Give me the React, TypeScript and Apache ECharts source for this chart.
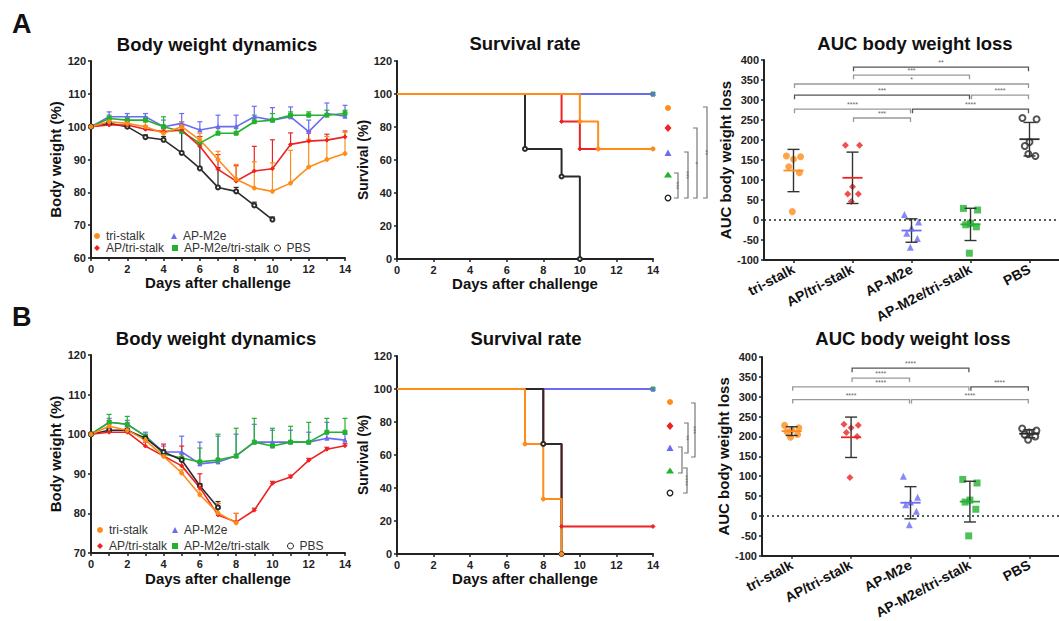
import React, { useEffect, useRef } from "react";
import * as echarts from "echarts";

const FONT = "'Liberation Sans', Arial, Helvetica, sans-serif";

const GROUPS = ["tri-stalk", "AP/tri-stalk", "AP-M2e", "AP-M2e/tri-stalk", "PBS"];
const COLORS = ["#FF8C1A", "#EE2222", "#6B6BF2", "#22B22E", "#2B2B2B"];
const SYMBOLS = ["circle", "diamond", "triangle", "rect", "emptyCircle"];

const DAYS = [0, 1, 2, 3, 4, 5, 6, 7, 8, 9, 10, 11, 12, 13, 14];

// ---- Panel A: body weight (mean %, upper SD)
const A_BW_TRI = [100, 101.5, 101, 100, 98, 100, 96, 90, 84, 81.3, 80.3, 82.8, 87.7, 90, 91.8];
const A_BW_TRI_SD = [0, 1, 1, 1.5, 1, 1.5, 2, 2.5, 4.5, 8, 8.7, 10, 8.5, 7, 6.5];
const A_BW_APTRI = [100, 100.5, 100.5, 99.2, 98.5, 99, 94, 87, 83.4, 86.5, 87.2, 94.6, 95.6, 95.9, 96.9];
const A_BW_APTRI_SD = [0, 0.5, 1, 1, 1, 1.5, 3, 4.5, 4.7, 7.5, 8.8, 3.5, 3, 1.8, 1.8];
const A_BW_M2E = [100, 103, 103, 103, 100, 101, 99, 100, 100, 103, 102, 103, 98.5, 104, 103.2];
const A_BW_M2E_SD = [0, 1.5, 1, 1, 2, 3, 2.5, 3.5, 3.5, 3.2, 3.8, 3, 3.5, 3.2, 3.3];
const A_BW_M2ETRI = [100, 102.5, 102, 102, 100, 98.5, 95, 98, 98, 101.5, 102, 103.5, 103.5, 103.5, 104];
const A_BW_M2ETRI_SD = [0, 1, 1, 1, 3, 3, 2, 2, 2, 2, 2, 1, 1, 1.5, 1];
const A_BW_PBS = [100, 101, 100, 96.8, 96, 92, 87.3, 81.5, 80.3, 76, 71.7];
const A_BW_PBS_SD = [0, 0.5, 1, 0.7, 1, 8, 7.7, 6, 1.2, 1, 0.8];

// ---- Panel B: body weight
const B_BW_TRI = [100, 102, 101, 98.5, 94.4, 90.2, 84.7, 80.1, 77.6];
const B_BW_TRI_SD = [0, 1.5, 1, 0.5, 0.6, 0.8, 1.3, 2.4, 2.4];
const B_BW_APTRI = [100, 100.5, 100.5, 97, 94.5, 92, 86.5, 79.6, 77.8, 80.8, 87.6, 89.2, 93.4, 96.2, 97.1];
const B_BW_APTRI_SD = [0, 0.5, 0.5, 1, 3, 5, 3.5, 2.9, 2.2, 0.5, 0.5, 0.5, 0.5, 0.5, 0.5];
const B_BW_M2E = [100, 103, 102.5, 99.5, 95.5, 95.5, 92.5, 93, 94.5, 98, 98, 98, 98, 99, 98.5];
const B_BW_M2E_SD = [0, 1, 1, 1, 1.5, 4, 5.5, 6.5, 5.5, 4.5, 3, 3, 2.5, 4, 1.5];
const B_BW_M2ETRI = [100, 103, 102.5, 99.5, 95, 94, 93, 93.5, 94.5, 98, 97, 98, 98, 100.5, 100.5];
const B_BW_M2ETRI_SD = [0, 2, 2, 0.5, 1, 1, 3.5, 6.5, 7, 6, 4.5, 4, 5, 3.5, 3.5];
const B_BW_PBS = [100, 101, 101, 99, 95.5, 93.5, 87, 81.5];
const B_BW_PBS_SD = [0, 0.5, 0.5, 0.5, 0.5, 0.5, 0.5, 1.5];

// ---- Survival (day, %)
const A_SURV_TRI = [[0, 100], [10, 83.3], [11, 66.7], [14, 66.7]];
const A_SURV_APTRI = [[0, 100], [9, 83.3], [10, 66.7], [14, 66.7]];
const A_SURV_M2E = [[0, 100], [14, 100]];
const A_SURV_M2ETRI = [[0, 100], [14, 100]];
const A_SURV_PBS = [[0, 100], [7, 66.7], [9, 50], [10, 0]];

const B_SURV_TRI = [[0, 100], [7, 66.7], [8, 33.3], [9, 0]];
const B_SURV_APTRI = [[0, 100], [8, 66.7], [9, 16.7], [14, 16.7]];
const B_SURV_M2E = [[0, 100], [14, 100]];
const B_SURV_M2ETRI = [[0, 100], [14, 100]];
const B_SURV_PBS = [[0, 100], [8, 66.7], [9, 0]];

// ---- AUC individual values
const A_AUC_TRI = [160, 158, 152, 133, 118, 21];
const A_AUC_APTRI = [187, 187, 83, 65, 65, 46];
const A_AUC_M2E = [14, -5, -20, -33, -46, -68];
const A_AUC_M2ETRI = [29, 25, -8, -12, -17, -83];
const A_AUC_PBS = [255, 252, 195, 185, 160, 165];

const B_AUC_TRI = [228, 222, 216, 212, 205, 198];
const B_AUC_APTRI = [231, 228, 222, 210, 200, 97];
const B_AUC_M2E = [100, 47, 35, 28, 12, -22];
const B_AUC_M2ETRI = [92, 83, 40, 35, 17, -50];
const B_AUC_PBS = [220, 215, 210, 205, 200, 192];

const JITTER = [-0.12, 0.12, 0.0, -0.08, 0.1, -0.02];

// ---- significance comparisons on AUC: [groupFrom, groupTo, level]
const A_AUC_BRACKETS = [[1, 4, 382], [1, 3, 362], [0, 4, 340], [0, 3, 312], [3, 4, 312], [0, 2, 277], [2, 4, 277], [1, 2, 255]];
const A_AUC_BRACKET_LABELS = ["**", "***", "*", "***", "****", "****", "****", "***"];
const B_AUC_BRACKETS = [[1, 3, 372], [1, 2, 347], [0, 3, 325], [3, 4, 325], [0, 2, 293], [2, 4, 293]];
const B_AUC_BRACKET_LABELS = ["****", "****", "****", "****", "****", "****"];

const mean = (a: number[]) => a.reduce((s, v) => s + v, 0) / a.length;
const sd = (a: number[]) => {
  const m = mean(a);
  return Math.sqrt(a.reduce((s, v) => s + (v - m) * (v - m), 0) / (a.length - 1));
};

const AX = "#222";
const axisLine = { show: true, onZero: false, lineStyle: { color: AX, width: 2 } };
const axisTick = { show: true, length: 3, lineStyle: { color: AX, width: 1.5 } };
const tickLabel = { color: "#222", fontSize: 11, fontWeight: "bold", fontFamily: FONT, margin: 5 };
const nameText = { color: "#111", fontSize: 15, fontWeight: "bold", fontFamily: FONT };

function valueAxis(gridIndex: number, min: number, max: number, interval: number, name: string, nameGap: number, extra: any = {}) {
  return {
    type: "value", gridIndex, min, max, interval, name, nameLocation: "middle", nameGap,
    nameTextStyle: { ...nameText, ...(extra.nameTextStyle || {}) },
    axisLine, axisTick, splitLine: { show: false },
    axisLabel: { ...tickLabel, ...(extra.axisLabel || {}) },
  };
}

function categoryAxis(gridIndex: number) {
  return {
    type: "category", gridIndex, data: GROUPS, boundaryGap: true,
    axisLine, axisTick: { ...axisTick, alignWithLabel: true },
    axisLabel: { color: "#111", fontSize: 14, fontWeight: "bold", fontFamily: FONT, rotate: 28, margin: 8, interval: 0 },
  };
}

function hiddenX(gridIndex: number) {
  return { type: "value", gridIndex, min: -0.5, max: 4.5, show: false };
}

function errorBars(values: number[], sds: number[], color: string, xi: number, yi: number) {
  return {
    type: "custom", xAxisIndex: xi, yAxisIndex: yi, silent: true, z: 2,
    data: values.map((v, i) => [DAYS[i], v, v + sds[i]]),
    encode: { x: 0, y: [1, 2] },
    renderItem: (_p: any, api: any) => {
      const x = api.value(0), m = api.value(1), t = api.value(2);
      if (t - m <= 0.05) return null;
      const a = api.coord([x, m]);
      const b = api.coord([x, t]);
      const st = { stroke: color, lineWidth: 1.2 };
      return {
        type: "group",
        children: [
          { type: "line", shape: { x1: a[0], y1: a[1], x2: b[0], y2: b[1] }, style: st },
          { type: "line", shape: { x1: b[0] - 2.5, y1: b[1], x2: b[0] + 2.5, y2: b[1] }, style: st },
        ],
      };
    },
  };
}

function bwLine(gi: number, values: number[], xi: number, yi: number) {
  return {
    type: "line", name: GROUPS[gi], xAxisIndex: xi, yAxisIndex: yi, z: 3,
    data: values.map((v, i) => [DAYS[i], v]),
    symbol: SYMBOLS[gi], symbolSize: 4,
    lineStyle: { width: 1.6, color: COLORS[gi] },
    itemStyle: { color: COLORS[gi], borderColor: COLORS[gi] },
  };
}

function survLine(gi: number, pts: number[][], xi: number, yi: number) {
  return {
    type: "line", name: GROUPS[gi], xAxisIndex: xi, yAxisIndex: yi, step: "end", z: 3,
    data: pts.map((p, k) => (k === 0 ? { value: p, symbol: "none" } : { value: p })),
    symbol: SYMBOLS[gi], symbolSize: 4,
    lineStyle: { width: 2, color: COLORS[gi] },
    itemStyle: { color: COLORS[gi], borderColor: COLORS[gi] },
  };
}

function aucScatter(gi: number, values: number[], xi: number, yi: number, zeroLine: boolean) {
  const s: any = {
    type: "scatter", name: GROUPS[gi], xAxisIndex: xi, yAxisIndex: yi, z: 3,
    data: values.map((v, k) => [gi + JITTER[k % JITTER.length], v]),
    symbol: SYMBOLS[gi], symbolSize: gi === 4 ? 6 : 7,
    itemStyle: { color: COLORS[gi], borderColor: COLORS[gi], borderWidth: gi === 4 ? 1.3 : 0 },
  };
  if (zeroLine) {
    s.markLine = {
      silent: true, symbol: "none", label: { show: false },
      lineStyle: { type: [2, 3], color: "#222", width: 1.6 },
      data: [{ yAxis: 0 }],
    };
  }
  return s;
}

function meanSd(groups: number[][], xi: number, yi: number) {
  return {
    type: "custom", xAxisIndex: xi, yAxisIndex: yi, silent: true, z: 4,
    data: groups.map((g, i) => [i, mean(g), sd(g)]),
    encode: { x: 0, y: 1 },
    renderItem: (p: any, api: any) => {
      const i = api.value(0), m = api.value(1), s = api.value(2);
      const c = COLORS[p.dataIndex];
      const l = api.coord([i - 0.17, m]);
      const r = api.coord([i + 0.17, m]);
      const top = api.coord([i, m + s]);
      const bot = api.coord([i, m - s]);
      const cw = 6;
      const st = { stroke: "#333", lineWidth: 1.4 };
      return {
        type: "group",
        children: [
          { type: "line", shape: { x1: top[0], y1: top[1], x2: bot[0], y2: bot[1] }, style: st },
          { type: "line", shape: { x1: top[0] - cw, y1: top[1], x2: top[0] + cw, y2: top[1] }, style: st },
          { type: "line", shape: { x1: bot[0] - cw, y1: bot[1], x2: bot[0] + cw, y2: bot[1] }, style: st },
          { type: "line", shape: { x1: l[0], y1: l[1], x2: r[0], y2: r[1] }, style: { stroke: c, lineWidth: 1.8 } },
        ],
      };
    },
  };
}

function brackets(list: number[][], labels: string[], xi: number, yi: number) {
  return {
    type: "custom", xAxisIndex: xi, yAxisIndex: yi, silent: true, z: 2,
    data: list,
    encode: { x: [0, 1], y: 2 },
    renderItem: (p: any, api: any) => {
      const a = api.coord([api.value(0), api.value(2)]);
      const b = api.coord([api.value(1), api.value(2)]);
      const dark = p.dataIndex % 3 === 0;
      return {
        type: "group",
        children: [
          {
            type: "polyline",
            shape: { points: [[a[0] + 1, a[1] + 4], [a[0] + 1, a[1]], [b[0] - 1, b[1]], [b[0] - 1, b[1] + 4]] },
            style: { stroke: dark ? "#555" : "#999", lineWidth: 1.3, fill: "none" },
          },
          {
            type: "text", x: (a[0] + b[0]) / 2, y: a[1] - 1,
            style: { text: labels[p.dataIndex], fontSize: 7, fontFamily: FONT, fill: "#666", align: "center", verticalAlign: "bottom" },
          },
        ],
      };
    },
  };
}

function legendItem(gi: number, left: number, top: number) {
  const item: any = { name: GROUPS[gi], icon: gi === 3 ? "rect" : SYMBOLS[gi] === "emptyCircle" ? "circle" : SYMBOLS[gi] };
  if (gi === 4) item.itemStyle = { color: "#fff", borderColor: "#222", borderWidth: 1 };
  return {
    data: [item], left, top, padding: 0, itemWidth: 6, itemHeight: 6, itemGap: 0,
    selectedMode: false,
    textStyle: { fontSize: 12, color: "#333", fontFamily: FONT, padding: [0, 0, 0, 1] },
  };
}

function marker(gi: number, x: number, y: number) {
  const color = COLORS[gi];
  if (gi === 0) return { type: "circle", shape: { cx: x, cy: y, r: 3 }, style: { fill: color } };
  if (gi === 1) return { type: "polygon", shape: { points: [[x, y - 4], [x + 3.5, y], [x, y + 4], [x - 3.5, y]] }, style: { fill: color } };
  if (gi === 2) return { type: "polygon", shape: { points: [[x, y - 3.5], [x + 3.5, y + 3], [x - 3.5, y + 3]] }, style: { fill: color } };
  if (gi === 3) return { type: "polygon", shape: { points: [[x, y - 3.5], [x + 4, y + 2.5], [x - 4, y + 2.5]] }, style: { fill: color } };
  return { type: "circle", shape: { cx: x, cy: y, r: 2.8 }, style: { fill: "#fff", stroke: "#222", lineWidth: 1.3 } };
}

function vBracket(x: number, y1: number, y2: number, label: string) {
  return [
    { type: "polyline", shape: { points: [[x - 4, y1], [x, y1], [x, y2], [x - 4, y2]] }, style: { stroke: "#777", lineWidth: 1.2, fill: "none" } },
    {
      type: "text", x: x + 2, y: (y1 + y2) / 2, rotation: -Math.PI / 2,
      style: { text: label, fontSize: 7, fontFamily: FONT, fill: "#666", align: "center", verticalAlign: "top" },
    },
  ];
}

function txt(text: string, x: number, y: number, size: number, align = "center") {
  return {
    type: "text", x, y,
    style: { text, fontSize: size, fontWeight: "bold", fontFamily: FONT, fill: "#111", align, verticalAlign: "middle" },
  };
}

function buildOption() {
  const A_BW = [A_BW_TRI, A_BW_APTRI, A_BW_M2E, A_BW_M2ETRI, A_BW_PBS];
  const A_BW_E = [A_BW_TRI_SD, A_BW_APTRI_SD, A_BW_M2E_SD, A_BW_M2ETRI_SD, A_BW_PBS_SD];
  const B_BW = [B_BW_TRI, B_BW_APTRI, B_BW_M2E, B_BW_M2ETRI, B_BW_PBS];
  const B_BW_E = [B_BW_TRI_SD, B_BW_APTRI_SD, B_BW_M2E_SD, B_BW_M2ETRI_SD, B_BW_PBS_SD];
  const A_SV = [A_SURV_TRI, A_SURV_APTRI, A_SURV_M2E, A_SURV_M2ETRI, A_SURV_PBS];
  const B_SV = [B_SURV_TRI, B_SURV_APTRI, B_SURV_M2E, B_SURV_M2ETRI, B_SURV_PBS];
  const A_AUC = [A_AUC_TRI, A_AUC_APTRI, A_AUC_M2E, A_AUC_M2ETRI, A_AUC_PBS];
  const B_AUC = [B_AUC_TRI, B_AUC_APTRI, B_AUC_M2E, B_AUC_M2ETRI, B_AUC_PBS];

  const bwOrder = [2, 3, 4, 1, 0];
  const series: any[] = [];
  bwOrder.forEach((g) => series.push(errorBars(A_BW[g], A_BW_E[g], COLORS[g], 0, 0)));
  bwOrder.forEach((g) => series.push(bwLine(g, A_BW[g], 0, 0)));
  bwOrder.forEach((g) => series.push(errorBars(B_BW[g], B_BW_E[g], COLORS[g], 4, 3)));
  bwOrder.forEach((g) => series.push(bwLine(g, B_BW[g], 4, 3)));
  [3, 2, 4, 1, 0].forEach((g) => series.push(survLine(g, A_SV[g], 1, 1)));
  [3, 2, 1, 4, 0].forEach((g) => series.push(survLine(g, B_SV[g], 5, 4)));
  A_AUC.forEach((vals, g) => series.push(aucScatter(g, vals, 3, 2, g === 0)));
  series.push(meanSd(A_AUC, 3, 2));
  series.push(brackets(A_AUC_BRACKETS, A_AUC_BRACKET_LABELS, 3, 2));
  B_AUC.forEach((vals, g) => series.push(aucScatter(g, vals, 7, 5, g === 0)));
  series.push(meanSd(B_AUC, 7, 5));
  series.push(brackets(B_AUC_BRACKETS, B_AUC_BRACKET_LABELS, 7, 5));

  const evenOnly = { axisLabel: { formatter: (v: number) => (v % 2 === 0 ? String(v) : "") } };

  const graphics: any[] = [
    txt("A", 12, 24, 27, "left"),
    txt("B", 12, 317, 27, "left"),
    txt("Body weight dynamics", 217, 44, 18.5),
    txt("Survival rate", 525, 43, 18.5),
    txt("AUC body weight loss", 915, 43, 18.5),
    txt("Body weight dynamics", 216, 338, 18.5),
    txt("Survival rate", 526, 338, 18.5),
    txt("AUC body weight loss", 913, 338, 18.5),
  ];
  const aMk = [108, 128, 153, 175, 198];
  aMk.forEach((y, g) => graphics.push(marker(g, 668, y)));
  const bMk = [402, 426, 448, 471, 493];
  bMk.forEach((y, g) => graphics.push(marker(g, 670, y)));
  graphics.push(...vBracket(678, 173, 198, "***"));
  graphics.push(...vBracket(688, 152, 198, "***"));
  graphics.push(...vBracket(697, 128, 198, "*"));
  graphics.push(...vBracket(707, 107, 198, "**"));
  graphics.push(...vBracket(695, 403, 457, "***"));
  graphics.push(...vBracket(688, 423, 453, "**"));
  graphics.push(...vBracket(682, 447, 473, ""));
  graphics.push(...vBracket(687, 468, 493, "****"));

  return {
    animation: false,
    backgroundColor: "#fff",
    textStyle: { fontFamily: FONT },
    grid: [
      { left: 91, top: 61, width: 254, height: 197 },
      { left: 397, top: 61, width: 256, height: 198 },
      { left: 764, top: 60, width: 302, height: 200 },
      { left: 91, top: 355, width: 254, height: 198 },
      { left: 397, top: 356, width: 256, height: 198 },
      { left: 762, top: 357, width: 302, height: 200 },
    ],
    xAxis: [
      valueAxis(0, 0, 14, 1, "Days after challenge", 17, evenOnly),
      valueAxis(1, 0, 14, 2, "Days after challenge", 17),
      categoryAxis(2),
      hiddenX(2),
      valueAxis(3, 0, 14, 1, "Days after challenge", 18, evenOnly),
      valueAxis(4, 0, 14, 2, "Days after challenge", 17),
      categoryAxis(5),
      hiddenX(5),
    ],
    yAxis: [
      valueAxis(0, 60, 120, 10, "Body weight (%)", 28),
      valueAxis(1, 0, 120, 20, "Survival (%)", 22, { nameTextStyle: { fontSize: 14 } }),
      valueAxis(2, -100, 400, 50, "AUC body weight loss", 28),
      valueAxis(3, 70, 120, 10, "Body weight (%)", 28),
      valueAxis(4, 0, 120, 20, "Survival (%)", 22, { nameTextStyle: { fontSize: 14 } }),
      valueAxis(5, -100, 400, 50, "AUC body weight loss", 27),
    ],
    legend: [
      legendItem(0, 94, 230),
      legendItem(2, 171, 230),
      legendItem(1, 94, 242),
      legendItem(3, 172, 242),
      legendItem(4, 274, 242),
      legendItem(0, 97, 524),
      legendItem(2, 172, 524),
      legendItem(1, 97, 540),
      legendItem(3, 172, 540),
      legendItem(4, 287, 540),
    ],
    graphic: graphics,
    series,
  };
}

export default function App() {
  const ref = useRef<HTMLDivElement>(null);
  useEffect(() => {
    document.body.style.margin = "0";
    const chart = echarts.init(ref.current as HTMLDivElement, null, { renderer: "svg" });
    chart.setOption(buildOption() as any);
    return () => chart.dispose();
  }, []);
  return <div ref={ref} style={{ width: 1059, height: 621 }} />;
}
